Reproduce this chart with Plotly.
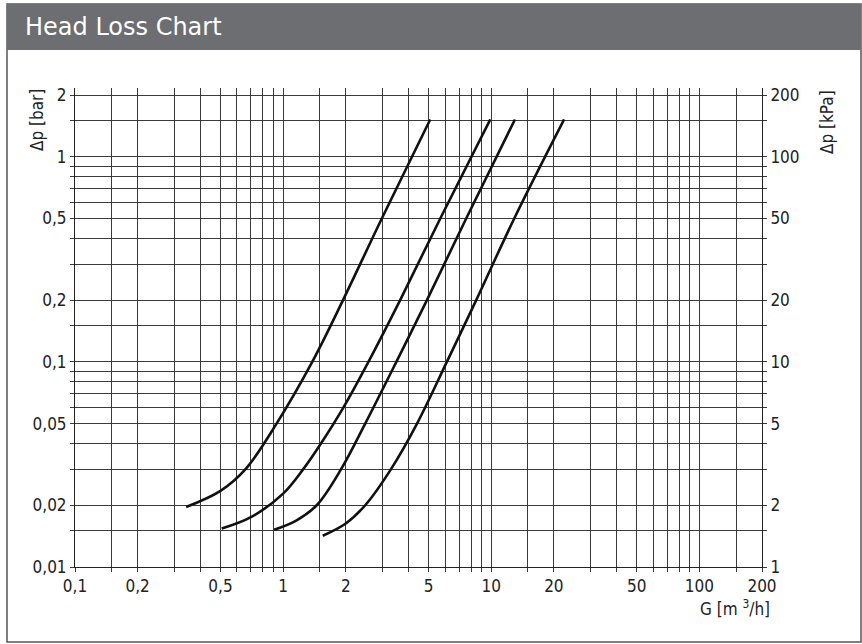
import math
import plotly.graph_objects as go

# ---- data ----
curve1_g = [0.342, 0.5, 0.66, 0.93, 1.38, 1.94, 2.98, 5.09]
curve1_dp = [0.0196, 0.0235, 0.03, 0.05, 0.1, 0.2, 0.5, 1.52]

curve2_g = [0.507, 0.7, 1.0, 1.25, 1.52, 1.95, 2.57, 3.65, 5.69, 9.9]
curve2_dp = [0.0154, 0.0175, 0.0228, 0.03, 0.04, 0.06, 0.1, 0.2, 0.5, 1.52]

curve3_g = [0.905, 1.15, 1.45, 1.9, 2.48, 3.5, 4.91, 7.58, 13.0]
curve3_dp = [0.0152, 0.0168, 0.02, 0.03, 0.05, 0.1, 0.2, 0.5, 1.52]

curve4_g = [1.55, 2.0, 2.48, 3.3, 4.4, 6.12, 8.47, 12.9, 22.4]
curve4_dp = [0.0142, 0.0163, 0.02, 0.03, 0.05, 0.1, 0.2, 0.5, 1.52]

x_grid = [0.1, 0.15, 0.2, 0.3, 0.4, 0.5, 0.6, 0.7, 0.8, 0.9, 1, 1.5, 2, 3, 4, 5, 6, 7, 8, 9,
          10, 15, 20, 30, 40, 50, 60, 70, 80, 90, 100, 150, 200]
x_labels = {0.1: "0,1", 0.2: "0,2", 0.5: "0,5", 1: "1", 2: "2", 5: "5", 10: "10", 20: "20",
            50: "50", 100: "100", 200: "200"}
y_grid = [0.01, 0.015, 0.02, 0.03, 0.04, 0.05, 0.06, 0.07, 0.08, 0.09, 0.1, 0.15, 0.2, 0.3,
          0.4, 0.5, 0.6, 0.7, 0.8, 0.9, 1, 1.5, 2]
y_labels = {0.01: "0,01", 0.02: "0,02", 0.05: "0,05", 0.1: "0,1", 0.2: "0,2", 0.5: "0,5",
            1: "1", 2: "2"}
kpa_grid = [1, 1.5, 2, 3, 4, 5, 6, 7, 8, 9, 10, 15, 20, 30, 40, 50, 60, 70, 80, 90, 100,
            150, 200]
kpa_labels = {1: "1", 2: "2", 5: "5", 10: "10", 20: "20", 50: "50", 100: "100", 200: "200"}

# ---- figure ----
W, H = 862, 644
L, R, T, B = 75, 762, 88, 567
pw, ph = R - L, B - T


def px(xp):
    return (xp - L) / pw


def py(yp):
    return (B - yp) / ph


tick_font = dict(family="DejaVu Sans Condensed, DejaVu Sans", size=17, color="#222")
grid_col = "#3a3a3a"

fig = go.Figure()
for gx, gy in [(curve1_g, curve1_dp), (curve2_g, curve2_dp), (curve3_g, curve3_dp),
               (curve4_g, curve4_dp)]:
    fig.add_trace(go.Scatter(x=gx, y=gy, mode="lines",
                             line=dict(color="#111", width=2.6, shape="spline", smoothing=1.0),
                             showlegend=False, hoverinfo="skip"))

# invisible trace on the kPa axis
fig.add_trace(go.Scatter(x=[1], y=[10], yaxis="y2", mode="markers",
                         marker=dict(opacity=0), showlegend=False, hoverinfo="skip"))

ytop = math.log10(2) + 7 / 205.0

fig.update_layout(
    width=W, height=H,
    margin=dict(l=L, r=W - R, t=T, b=H - B),
    paper_bgcolor="white", plot_bgcolor="white",
    xaxis=dict(type="log", range=[-1, math.log10(200)],
               tickvals=x_grid, ticktext=[x_labels.get(v, "") for v in x_grid],
               showgrid=True, gridcolor=grid_col, gridwidth=1,
               ticks="outside", ticklen=4, tickcolor=grid_col,
               showline=True, linecolor="#222", linewidth=1,
               tickfont=tick_font, zeroline=False, fixedrange=True),
    yaxis=dict(type="log", range=[-2, ytop],
               tickvals=y_grid, ticktext=[y_labels.get(v, "") for v in y_grid],
               showgrid=True, gridcolor=grid_col, gridwidth=1,
               ticks="outside", ticklen=4, tickcolor=grid_col,
               showline=True, linecolor="#222", linewidth=1,
               tickfont=tick_font, zeroline=False, fixedrange=True),
    yaxis2=dict(type="log", range=[0, ytop + 2], overlaying="y", side="right",
                tickvals=kpa_grid, ticktext=[kpa_labels.get(v, "") for v in kpa_grid],
                showgrid=False, ticks="outside", ticklen=4, tickcolor=grid_col,
                showline=True, linecolor="#222", linewidth=1,
                tickfont=tick_font, zeroline=False, fixedrange=True),
)

shapes = [
    dict(type="rect", xref="paper", yref="paper", x0=px(7), x1=px(861), y0=py(642), y1=py(4),
         line=dict(color="#555", width=1.5), fillcolor="rgba(0,0,0,0)", layer="below"),
    dict(type="rect", xref="paper", yref="paper", x0=px(7), x1=px(861), y0=py(50), y1=py(4),
         line=dict(width=0), fillcolor="#6d6e71", layer="below"),
]
fig.update_layout(shapes=shapes)

ann_font = dict(family="DejaVu Sans Condensed, DejaVu Sans", size=17, color="#222")
fig.add_annotation(xref="paper", yref="paper", x=px(23), y=py(27), text="Head Loss Chart",
                   showarrow=False, xanchor="left", yanchor="middle",
                   font=dict(family="DejaVu Sans", size=24, color="white"))
fig.add_annotation(xref="paper", yref="paper", x=px(37), y=py(120), text="Δp [bar]",
                   showarrow=False, textangle=-90, xanchor="center", yanchor="middle",
                   font=ann_font)
fig.add_annotation(xref="paper", yref="paper", x=px(827), y=py(122), text="Δp [kPa]",
                   showarrow=False, textangle=-90, xanchor="center", yanchor="middle",
                   font=ann_font)
fig.add_annotation(xref="paper", yref="paper", x=px(735), y=py(608),
                   text="G [m <sup>3</sup>/h]",
                   showarrow=False, xanchor="center", yanchor="middle", font=ann_font)

fig.write_html("out.html", config={"displayModeBar": False},
               post_script="document.body.style.margin='0px';document.body.style.padding='0px';")
